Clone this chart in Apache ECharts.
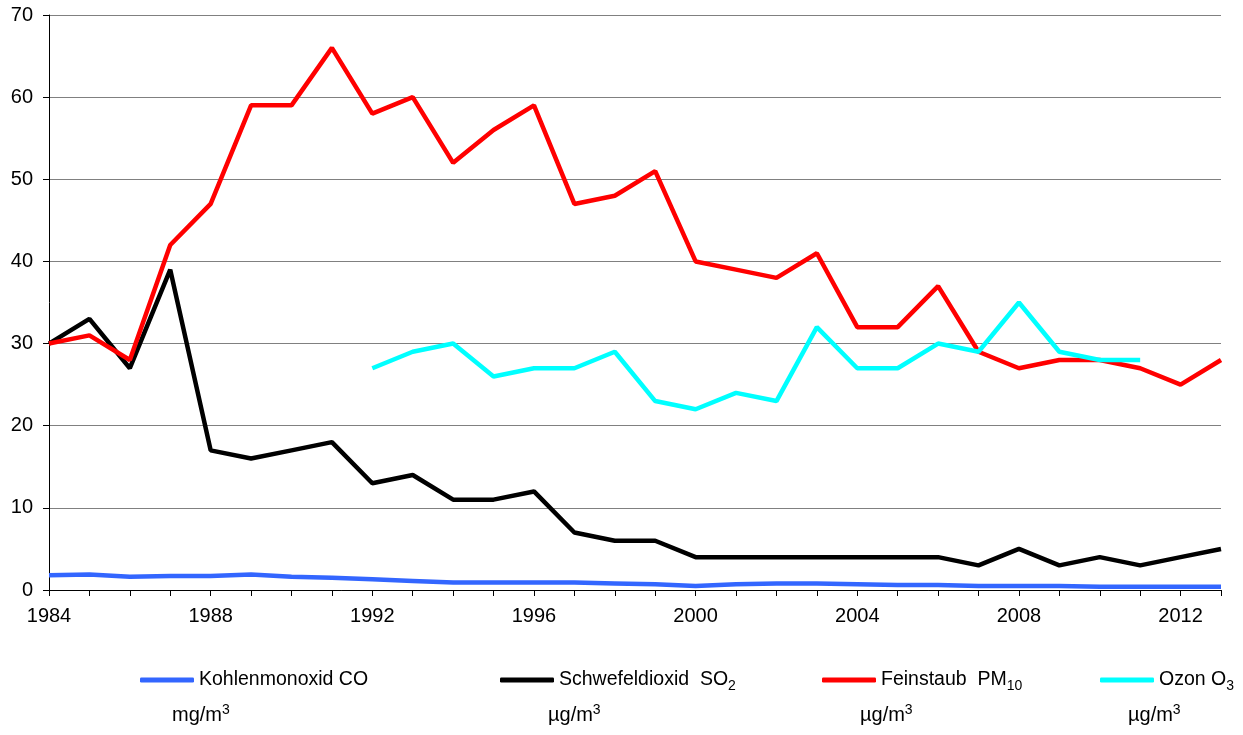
<!DOCTYPE html>
<html><head><meta charset="utf-8">
<script src="https://cdn.jsdelivr.net/npm/echarts@6/dist/echarts.min.js"></script>
<style>html,body{margin:0;padding:0;background:#fff}#c{width:1243px;height:735px}</style>
</head><body><div id="c"></div>
<script>
const years = [1984,1985,1986,1987,1988,1989,1990,1991,1992,1993,1994,1995,1996,1997,1998,1999,2000,2001,2002,2003,2004,2005,2006,2007,2008,2009,2010,2011,2012,2013];
const co   = [1.8,1.9,1.6,1.7,1.7,1.9,1.6,1.5,1.3,1.1,0.9,0.9,0.9,0.9,0.8,0.7,0.5,0.7,0.8,0.8,0.7,0.6,0.6,0.5,0.5,0.5,0.4,0.4,0.4,0.4];
const so2  = [30,33,27,39,17,16,17,18,13,14,11,11,12,7,6,6,4,4,4,4,4,4,4,3,5,3,4,3,4,5];
const pm10 = [30,31,28,42,47,59,59,66,58,60,52,56,59,47,48,51,40,39,38,41,32,32,37,29,27,28,28,27,25,28];
const o3Years = [1992,1993,1994,1995,1996,1997,1998,1999,2000,2001,2002,2003,2004,2005,2006,2007,2008,2009,2010,2011];
const o3   = [27,29,30,26,27,27,29,23,22,24,23,32,27,27,30,29,35,29,28,28];
const names = ['Kohlenmonoxid CO','Schwefeldioxid  SO2','Feinstaub  PM10','Ozon O3'];
const unitMain = ['mg/m','µg/m','µg/m','µg/m'];
const unitSup = ['3','3','3','3'];
const colors = ['#3366ff','#000000','#ff0000','#00ffff'];

const pair = (xs, ys) => xs.map((x,i)=>[x, ys[i]]);
const chart = echarts.init(document.getElementById('c'));
const FONT = '"Liberation Sans", Arial, sans-serif';
const legendLeft = [140, 500, 822, 1100];
const unitLeft = [172, 548, 860, 1128];
const rich = {
  n:{fontSize:19.5, fontFamily:FONT, color:'#000'},
  s:{fontSize:14, fontFamily:FONT, color:'#000', padding:[12,0,0,0]}
};
function fmt(name){
  if(name==='Schwefeldioxid  SO2') return '{n|Schwefeldioxid  SO}{s|2}';
  if(name==='Feinstaub  PM10') return '{n|Feinstaub  PM}{s|10}';
  if(name==='Ozon O3') return '{n|Ozon O}{s|3}';
  return '{n|'+name+'}';
}
chart.setOption({
  animation:false,
  grid:{left:49, right:22, top:15, bottom:145, containLabel:false},
  legend: names.map((n,i)=>({
    data:[n], left:legendLeft[i], top:670, padding:0, itemWidth:54, itemHeight:5, icon:'roundRect',
    formatter:fmt, textStyle:{rich:rich, fontFamily:FONT, fontSize:19.5, color:'#000'}, selectedMode:false
  })),
  graphic: unitMain.map((u,i)=>({type:'text', left:unitLeft[i], top:703,
    style:{text:'{n|'+u+'}{p|'+unitSup[i]+'}', rich:{
      n:{fontSize:20, fontFamily:FONT, fill:'#000'},
      p:{fontSize:14, fontFamily:FONT, fill:'#000', padding:[0,0,10,0]}
    }}})),
  xAxis:{type:'value', min:1984, max:2013, interval:1,
    axisLine:{lineStyle:{color:'#000', width:1}},
    axisTick:{show:true, length:6, lineStyle:{color:'#000'}},
    splitLine:{show:false},
    axisLabel:{color:'#000', fontSize:20, fontFamily:FONT, margin:16,
      formatter:v=>((v-1984)%4===0 ? String(v) : '')}
  },
  yAxis:{type:'value', min:0, max:70, interval:10,
    axisLine:{show:true, lineStyle:{color:'#000', width:1}},
    axisTick:{show:true, length:6, lineStyle:{color:'#000'}},
    splitLine:{lineStyle:{color:'#808080', width:1}},
    axisLabel:{color:'#000', fontSize:20, fontFamily:FONT, margin:16}
  },
  series:[
    {name:names[0], type:'line', data:pair(years,co), symbol:'none', lineStyle:{color:colors[0], width:4.5}, itemStyle:{color:colors[0]}},
    {name:names[1], type:'line', data:pair(years,so2), symbol:'none', lineStyle:{color:colors[1], width:4.5}, itemStyle:{color:colors[1]}},
    {name:names[2], type:'line', data:pair(years,pm10), symbol:'none', lineStyle:{color:colors[2], width:4.5}, itemStyle:{color:colors[2]}},
    {name:names[3], type:'line', data:pair(o3Years,o3), symbol:'none', lineStyle:{color:colors[3], width:4.5}, itemStyle:{color:colors[3]}}
  ]
});
</script></body></html>
